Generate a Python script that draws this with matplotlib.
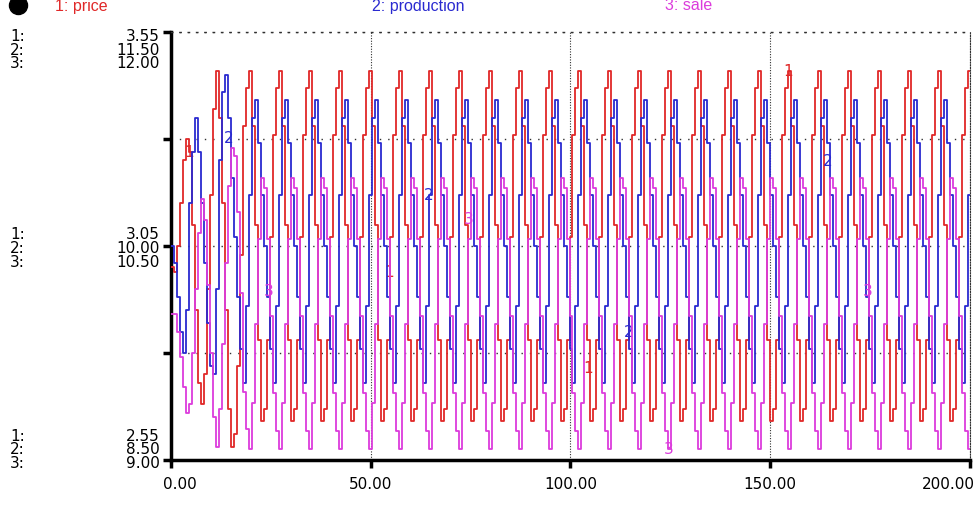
import numpy as np
import matplotlib
matplotlib.use("Agg")
import matplotlib.pyplot as plt
import matplotlib.transforms as mtransforms
from matplotlib.lines import Line2D

# ---------------- data ----------------
series_names = ["price", "production", "sale"]
series_colors = ["#e02828", "#2a2ad0", "#dc3cdc"]
price_scale = [2.55, 3.05, 3.55]
production_scale = [8.50, 10.00, 11.50]
sale_scale = [9.00, 10.50, 12.00]
time_ticks = [0, 50, 100, 150, 200]
time_end = 200
dt = 0.75
label_times = [[4.5, 54.5, 104.5, 154.5],
               [14.5, 64.5, 114.5, 164.5],
               [24.5, 74.5, 124.5, 174.5]]

price = [
    3.00, 2.99, 3.05, 3.15, 3.25, 3.30, 3.27, 3.10, 2.90, 2.73,
    2.68, 2.75, 2.95, 3.17, 3.37, 3.46, 3.35, 3.15, 2.90, 2.67,
    2.58, 2.61, 2.77, 3.03, 3.33, 3.42,
    3.46, 3.33, 3.10, 2.83, 2.64, 2.67, 2.83, 3.07, 3.31, 3.42,  # 1
    3.46, 3.33, 3.10, 2.83, 2.64, 2.67, 2.83, 3.07, 3.31, 3.42,  # 2
    3.46, 3.33, 3.10, 2.83, 2.64, 2.67, 2.83, 3.07, 3.31, 3.42,  # 3
    3.46, 3.33, 3.10, 2.83, 2.64, 2.67, 2.83, 3.07, 3.31, 3.42,  # 4
    3.46, 3.33, 3.10, 2.83, 2.64, 2.67, 2.83, 3.07, 3.31, 3.42,  # 5
    3.46, 3.33, 3.10, 2.83, 2.64, 2.67, 2.83, 3.07, 3.31, 3.42,  # 6
    3.46, 3.33, 3.10, 2.83, 2.64, 2.67, 2.83, 3.07, 3.31, 3.42,  # 7
    3.46, 3.33, 3.10, 2.83, 2.64, 2.67, 2.83, 3.07, 3.31, 3.42,  # 8
    3.46, 3.33, 3.10, 2.83, 2.64, 2.67, 2.83, 3.07, 3.31, 3.42,  # 9
    3.46, 3.33, 3.10, 2.83, 2.64, 2.67, 2.83, 3.07, 3.31, 3.42,  # 10
    3.46, 3.33, 3.10, 2.83, 2.64, 2.67, 2.83, 3.07, 3.31, 3.42,  # 11
    3.46, 3.33, 3.10, 2.83, 2.64, 2.67, 2.83, 3.07, 3.31, 3.42,  # 12
    3.46, 3.33, 3.10, 2.83, 2.64, 2.67, 2.83, 3.07, 3.31, 3.42,  # 13
    3.46, 3.33, 3.10, 2.83, 2.64, 2.67, 2.83, 3.07, 3.31, 3.42,  # 14
    3.46, 3.33, 3.10, 2.83, 2.64, 2.67, 2.83, 3.07, 3.31, 3.42,  # 15
    3.46, 3.33, 3.10, 2.83, 2.64, 2.67, 2.83, 3.07, 3.31, 3.42,  # 16
    3.46, 3.33, 3.10, 2.83, 2.64, 2.67, 2.83, 3.07, 3.31, 3.42,  # 17
    3.46, 3.33, 3.10, 2.83, 2.64, 2.67, 2.83, 3.07, 3.31, 3.42,  # 18
    3.46, 3.33, 3.10, 2.83, 2.64, 2.67, 2.83, 3.07, 3.31, 3.42,  # 19
    3.46, 3.33, 3.10, 2.83, 2.64, 2.67, 2.83, 3.07, 3.31, 3.42,  # 20
    3.46, 3.33, 3.10, 2.83, 2.64, 2.67, 2.83, 3.07, 3.31, 3.42,  # 21
    3.46, 3.33, 3.10, 2.83, 2.64, 2.67, 2.83, 3.07, 3.31, 3.42,  # 22
    3.46, 3.33, 3.10, 2.83, 2.64, 2.67, 2.83, 3.07, 3.31, 3.42,  # 23
    3.46, 3.33, 3.10, 2.83, 2.64, 2.67, 2.83, 3.07, 3.31, 3.42,  # 24
    3.46,
]

production = [
    10.00, 9.88, 9.64, 9.40, 9.25, 9.55, 10.30, 10.66, 10.90, 10.66,
    10.30, 9.88, 9.46, 9.16, 9.10, 9.70, 10.60, 11.08, 11.20, 10.90,
    10.48, 10.06, 9.64, 9.28, 9.04, 9.58,
    10.36, 10.90, 11.02, 10.72, 10.36, 10.00, 9.64, 9.28, 9.04, 9.58,  # 1
    10.36, 10.90, 11.02, 10.72, 10.36, 10.00, 9.64, 9.28, 9.04, 9.58,  # 2
    10.36, 10.90, 11.02, 10.72, 10.36, 10.00, 9.64, 9.28, 9.04, 9.58,  # 3
    10.36, 10.90, 11.02, 10.72, 10.36, 10.00, 9.64, 9.28, 9.04, 9.58,  # 4
    10.36, 10.90, 11.02, 10.72, 10.36, 10.00, 9.64, 9.28, 9.04, 9.58,  # 5
    10.36, 10.90, 11.02, 10.72, 10.36, 10.00, 9.64, 9.28, 9.04, 9.58,  # 6
    10.36, 10.90, 11.02, 10.72, 10.36, 10.00, 9.64, 9.28, 9.04, 9.58,  # 7
    10.36, 10.90, 11.02, 10.72, 10.36, 10.00, 9.64, 9.28, 9.04, 9.58,  # 8
    10.36, 10.90, 11.02, 10.72, 10.36, 10.00, 9.64, 9.28, 9.04, 9.58,  # 9
    10.36, 10.90, 11.02, 10.72, 10.36, 10.00, 9.64, 9.28, 9.04, 9.58,  # 10
    10.36, 10.90, 11.02, 10.72, 10.36, 10.00, 9.64, 9.28, 9.04, 9.58,  # 11
    10.36, 10.90, 11.02, 10.72, 10.36, 10.00, 9.64, 9.28, 9.04, 9.58,  # 12
    10.36, 10.90, 11.02, 10.72, 10.36, 10.00, 9.64, 9.28, 9.04, 9.58,  # 13
    10.36, 10.90, 11.02, 10.72, 10.36, 10.00, 9.64, 9.28, 9.04, 9.58,  # 14
    10.36, 10.90, 11.02, 10.72, 10.36, 10.00, 9.64, 9.28, 9.04, 9.58,  # 15
    10.36, 10.90, 11.02, 10.72, 10.36, 10.00, 9.64, 9.28, 9.04, 9.58,  # 16
    10.36, 10.90, 11.02, 10.72, 10.36, 10.00, 9.64, 9.28, 9.04, 9.58,  # 17
    10.36, 10.90, 11.02, 10.72, 10.36, 10.00, 9.64, 9.28, 9.04, 9.58,  # 18
    10.36, 10.90, 11.02, 10.72, 10.36, 10.00, 9.64, 9.28, 9.04, 9.58,  # 19
    10.36, 10.90, 11.02, 10.72, 10.36, 10.00, 9.64, 9.28, 9.04, 9.58,  # 20
    10.36, 10.90, 11.02, 10.72, 10.36, 10.00, 9.64, 9.28, 9.04, 9.58,  # 21
    10.36, 10.90, 11.02, 10.72, 10.36, 10.00, 9.64, 9.28, 9.04, 9.58,  # 22
    10.36, 10.90, 11.02, 10.72, 10.36, 10.00, 9.64, 9.28, 9.04, 9.58,  # 23
    10.36, 10.90, 11.02, 10.72, 10.36, 10.00, 9.64, 9.28, 9.04, 9.58,  # 24
    10.36,
]

sale = [
    10.02, 10.02, 9.90, 9.72, 9.51, 9.33, 9.39, 9.75, 10.20, 10.59,
    10.83, 10.68, 10.23, 9.75, 9.30, 9.09, 9.36, 9.81, 10.38, 10.92,
    11.19, 11.13, 10.74, 10.17, 9.48, 9.22,
    9.08, 9.40, 9.95, 10.55, 10.98, 10.91, 10.55, 10.01, 9.47, 9.20,  # 1
    9.08, 9.40, 9.95, 10.55, 10.98, 10.91, 10.55, 10.01, 9.47, 9.20,  # 2
    9.08, 9.40, 9.95, 10.55, 10.98, 10.91, 10.55, 10.01, 9.47, 9.20,  # 3
    9.08, 9.40, 9.95, 10.55, 10.98, 10.91, 10.55, 10.01, 9.47, 9.20,  # 4
    9.08, 9.40, 9.95, 10.55, 10.98, 10.91, 10.55, 10.01, 9.47, 9.20,  # 5
    9.08, 9.40, 9.95, 10.55, 10.98, 10.91, 10.55, 10.01, 9.47, 9.20,  # 6
    9.08, 9.40, 9.95, 10.55, 10.98, 10.91, 10.55, 10.01, 9.47, 9.20,  # 7
    9.08, 9.40, 9.95, 10.55, 10.98, 10.91, 10.55, 10.01, 9.47, 9.20,  # 8
    9.08, 9.40, 9.95, 10.55, 10.98, 10.91, 10.55, 10.01, 9.47, 9.20,  # 9
    9.08, 9.40, 9.95, 10.55, 10.98, 10.91, 10.55, 10.01, 9.47, 9.20,  # 10
    9.08, 9.40, 9.95, 10.55, 10.98, 10.91, 10.55, 10.01, 9.47, 9.20,  # 11
    9.08, 9.40, 9.95, 10.55, 10.98, 10.91, 10.55, 10.01, 9.47, 9.20,  # 12
    9.08, 9.40, 9.95, 10.55, 10.98, 10.91, 10.55, 10.01, 9.47, 9.20,  # 13
    9.08, 9.40, 9.95, 10.55, 10.98, 10.91, 10.55, 10.01, 9.47, 9.20,  # 14
    9.08, 9.40, 9.95, 10.55, 10.98, 10.91, 10.55, 10.01, 9.47, 9.20,  # 15
    9.08, 9.40, 9.95, 10.55, 10.98, 10.91, 10.55, 10.01, 9.47, 9.20,  # 16
    9.08, 9.40, 9.95, 10.55, 10.98, 10.91, 10.55, 10.01, 9.47, 9.20,  # 17
    9.08, 9.40, 9.95, 10.55, 10.98, 10.91, 10.55, 10.01, 9.47, 9.20,  # 18
    9.08, 9.40, 9.95, 10.55, 10.98, 10.91, 10.55, 10.01, 9.47, 9.20,  # 19
    9.08, 9.40, 9.95, 10.55, 10.98, 10.91, 10.55, 10.01, 9.47, 9.20,  # 20
    9.08, 9.40, 9.95, 10.55, 10.98, 10.91, 10.55, 10.01, 9.47, 9.20,  # 21
    9.08, 9.40, 9.95, 10.55, 10.98, 10.91, 10.55, 10.01, 9.47, 9.20,  # 22
    9.08, 9.40, 9.95, 10.55, 10.98, 10.91, 10.55, 10.01, 9.47, 9.20,  # 23
    9.08, 9.40, 9.95, 10.55, 10.98, 10.91, 10.55, 10.01, 9.47, 9.20,  # 24
    9.08,
]

# ---------------- figure ----------------
W, H = 978, 506
DPI = 100
fig = plt.figure(figsize=(W / DPI, H / DPI), dpi=DPI)
fig.patch.set_facecolor("white")

L, R, T, B = 171, 970, 33, 461
ax = fig.add_axes([L / W, 1 - B / H, (R - L) / W, (B - T) / H])
ax2 = ax.twinx()
ax3 = ax.twinx()
axes = [ax, ax2, ax3]
scales = [price_scale, production_scale, sale_scale]
data = [price, production, sale]

for a, sc in zip(axes, scales):
    a.set_ylim(sc[0], sc[-1])
    a.set_xlim(time_ticks[0], time_end)
for a in (ax2, ax3):
    a.axis("off")

num_font = "DejaVu Sans"
txt_font = "Liberation Sans"
num_size = 11


def px_offset(dx_px, dy_px):
    return mtransforms.ScaledTranslation(dx_px / DPI, dy_px / DPI, fig.dpi_scale_trans)


# lines
for a, vals, col in zip(axes, data, series_colors):
    t = np.arange(len(vals)) * dt
    t_edge = np.append(t, time_end)
    v_edge = np.append(vals, vals[-1])
    a.step(t_edge, v_edge, where="post", color=col, lw=1.3, zorder=3)

# series number markers
for i, (a, vals, col) in enumerate(zip(axes, data, series_colors)):
    t = np.arange(len(vals)) * dt
    for lt in label_times[i]:
        yv = np.interp(lt, t, vals)
        a.text(lt, yv, str(i + 1), color=col, fontsize=11, family=num_font,
               ha="center", va="center", zorder=5)

# ticks, grid, spines
ax.set_xticks(time_ticks)
ax.set_xticklabels([])
quarter = np.linspace(price_scale[0], price_scale[-1], 5)
ax.set_yticks(quarter)
ax.set_yticklabels([])
ax.tick_params(axis="both", direction="out", length=6, width=2.5, color="black")
ax.xaxis.grid(True, linestyle=(0, (1, 1.4)), color="#303030", lw=0.8)
ax.yaxis.grid(True, linestyle=(0, (1, 5)), color="#303030", lw=1.0)
ax.set_axisbelow(True)
for s in ("left", "bottom"):
    ax.spines[s].set_linewidth(2.5)
    ax.spines[s].set_color("black")
ax.spines["top"].set_linestyle((0, (1, 5)))
ax.spines["top"].set_linewidth(1.0)
ax.spines["top"].set_color("#303030")
ax.spines["right"].set_linestyle((0, (1, 1.4)))
ax.spines["right"].set_linewidth(0.8)
ax.spines["right"].set_color("#303030")

# x tick labels (first shifted right, last shifted left like the original)
xblend = mtransforms.blended_transform_factory(ax.transData, ax.transAxes)
for k, v in enumerate(time_ticks):
    if k == 0:
        ha, dx = "left", -8
    elif k == len(time_ticks) - 1:
        ha, dx = "right", 5
    else:
        ha, dx = "center", 0
    ax.text(v, 0, f"{v:.2f}", transform=xblend + px_offset(dx, -24),
            ha=ha, va="center", fontsize=num_size, family=num_font)

# y scale labels (three scales stacked at bottom, middle, top)
blend = mtransforms.blended_transform_factory(fig.transFigure, ax.transData)
line_px = 12.7
for gi, anchor in zip(range(3), (2, 1, 0)):
    yv = price_scale[gi]
    block = "\n".join(f"{s[gi]:.2f}" for s in scales)
    names = "\n".join(f"{j + 1}:" for j in range(3))
    dy = (anchor - 1) * line_px - 1.5 - (3 if anchor == 0 else 0)
    fig.text(160 / W, yv, block, transform=blend + px_offset(0, dy),
             ha="right", va="center", multialignment="right", linespacing=0.88,
             fontsize=num_size, family=num_font)
    fig.text(10 / W, yv, names, transform=blend + px_offset(0, dy),
             ha="left", va="center", multialignment="left", linespacing=0.88,
             fontsize=num_size, family=num_font)

# legend header
fig.add_artist(Line2D([18 / W], [1 - 6 / H], marker="o", markersize=13,
                      color="black", transform=fig.transFigure))
legend_x = [55, 372, 665]
for i, (name, col, lx) in enumerate(zip(series_names, series_colors, legend_x)):
    fig.text(lx / W, 1 - 6 / H, f"{i + 1}: {name}", color=col, fontsize=11.5,
             family=txt_font, ha="left", va="center")

fig.savefig("out.png", dpi=DPI)
